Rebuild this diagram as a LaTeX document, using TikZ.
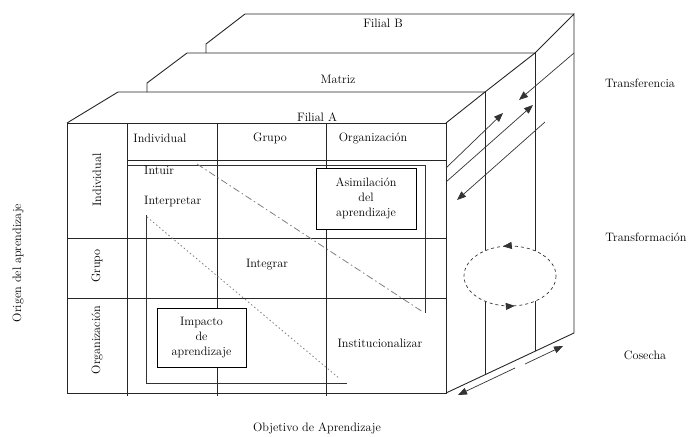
\documentclass[tikz,border=0pt]{standalone}
\usepackage{tikz}
\usetikzlibrary{positioning,arrows.meta,calc,decorations.markings}

\tikzset{
  edge/.style={line width=0.9pt, black!85},
  thinedge/.style={line width=0.7pt, black!80},
  tip/.style={-{Triangle[length=9pt,width=7pt]}},
  lbl/.style={font=\fontsize{12.2}{15}\selectfont, inner sep=0pt},
  box/.style={lbl, draw, fill=white, line width=0.9pt, align=center},
}

\begin{document}
\begin{tikzpicture}[x=1pt,y=-1pt] % one unit = one pixel of the reference
\useasboundingbox (0,0) rectangle (690,436);

% Front face (Filial A)
\coordinate (A0) at (67,123);
\coordinate (A1) at (446,123);
\coordinate (A2) at (446,393);
\coordinate (A3) at (67,393);

% Back corners of the three slabs
\coordinate (Ab) at (118,92);
\coordinate (Ar) at (485,92);
\coordinate (Ad) at (485,375);
\coordinate (Ms) at (147,92);
\coordinate (Mk) at (147,83);
\coordinate (Mb) at (187,53);
\coordinate (Mr) at (535,53);
\coordinate (Md) at (535,351);
\coordinate (Bs) at (206,53);
\coordinate (Bk) at (206,44);
\coordinate (Bb) at (245,14);
\coordinate (Br) at (574,14);
\coordinate (Bd) at (574,333);

% The slabs
\draw[edge] (A0) rectangle (A2);
\draw[edge] (A0) -- (Ab) -- (Ar);
\draw[edge] (Ms) -- (Mk) -- (Mb) -- (Mr);
\draw[edge] (Bs) -- (Bk) -- (Bb) -- (Br);
\draw[edge] (A1) -- (Ar) -- (Mr) -- (Br) -- (Bd) -- (A2);
\draw[edge] (Ar) -- (Ad);
\draw[edge] (Mr) -- (Md);

% Grid of the front face
\foreach \x in {127,217,326} {
  \draw[edge] (\x,123) -- (\x,396);
}
\foreach \y in {238,298} {
  \draw[edge] (A0 |- 0,\y) -- (A1 |- 0,\y);
}
\draw[edge] (127,160) -- (A1 |- 0,160); % header row

% Inner frames
\draw[thinedge] (127,165) -- (425,165) -- (425,313);
\draw[thinedge] (146,215) -- (146,383) -- (347,383);

% Diagonals
\draw[gray, line width=0.8pt, dash pattern=on 7pt off 3pt on 1.5pt off 3pt] (197,164) -- (423,312);
\draw[gray, line width=0.8pt, dash pattern=on 1.5pt off 2.5pt] (147,217) -- (340,379);

% Slab names
\node[lbl] (filialB) at (383,23) {Filial B};
\node[lbl] (matriz) at (338,79) {Matriz};
\node[lbl] (filialA) at (317,117) {Filial A};

% Column and row headers
\node[lbl] (hInd) at (160,138) {Individual};
\node[lbl] (hGru) at (270,138) {Grupo};
\node[lbl] (hOrg) at (373,138) {Organización};
\node[lbl, rotate=90] (rInd) at (97,180) {Individual};
\node[lbl, rotate=90] (rGru) at (97,266) {Grupo};
\node[lbl, rotate=90] (rOrg) at (97,340) {Organización};

% Processes
\node[lbl, anchor=west] (intuir) at (144,170) {Intuir};
\node[lbl, anchor=west] (interp) at (144,202) {Interpretar};
\node[lbl] (integrar) at (267,265) {Integrar};
\node[lbl] (instit) at (380,343) {Institucionalizar};
\node[box, minimum width=100pt, minimum height=61pt] (asim) at (366,198.5)
  {Asimilación\\del\\aprendizaje};
\node[box, minimum width=89pt, minimum height=59pt] (impacto) at (201.5,337.5)
  {Impacto\\de\\aprendizaje};

% Axis titles
\node[lbl, rotate=90] (origen) at (18,263) {Origen del aprendizaje};
\node[lbl] (objetivo) at (317,428) {Objetivo de Aprendizaje};
\node[lbl] (transf) at (640,83) {Transferencia};
\node[lbl] (transform) at (646,237) {Transformación};
\node[lbl] (cosecha) at (645,355) {Cosecha};

% Transfer arrows
\coordinate (t1a) at (446,168); \coordinate (t1b) at (503,113);
\coordinate (t2a) at (446,182); \coordinate (t2b) at (533,105);
\coordinate (t3a) at (545,122); \coordinate (t3b) at (457,200);
\coordinate (t4a) at (574,53);  \coordinate (t4b) at (519,100);
\foreach \i in {1,2,3,4} {
  \draw[thinedge, tip] (t\i a) -- (t\i b);
}

% Transformation cycle
\coordinate (cyc) at (510,276);
\draw[thinedge, dashed, fill=white, postaction={decorate},
  decoration={markings,
    mark=at position 0.23 with {\arrowreversed{Triangle[length=9pt,width=7pt]}},
    mark=at position 0.72 with {\arrowreversed{Triangle[length=9pt,width=7pt]}}}]
  (cyc) ellipse [x radius=46, y radius=30];

% Harvest arrows
\coordinate (h1a) at (525,364); \coordinate (h1b) at (563,346);
\coordinate (h2a) at (515,368); \coordinate (h2b) at (458,395);
\draw[thinedge, tip] (h1a) -- (h1b);
\draw[thinedge, tip] (h2a) -- (h2b);
\end{tikzpicture}
\end{document}
